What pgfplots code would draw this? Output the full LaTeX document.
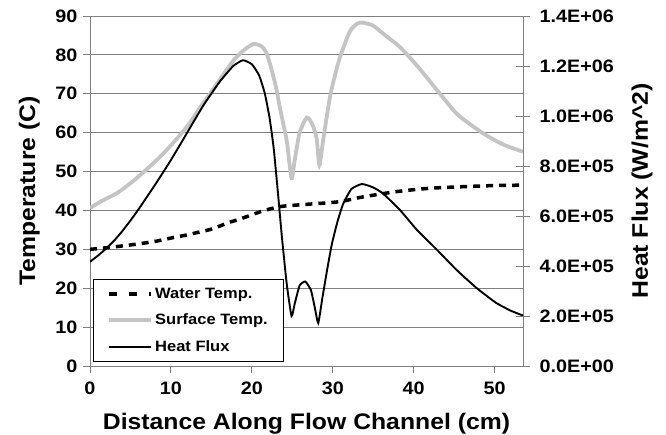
\documentclass[border=0pt]{standalone}
\usepackage{pgfplots}
\pgfplotsset{compat=1.18}
\usepackage{fontspec}
\setmainfont{Liberation Sans}[FakeStretch=1.1]
\definecolor{gridgray}{HTML}{808080}
\definecolor{surfgray}{HTML}{C4C4C4}
\begin{document}
\begin{tikzpicture}
\pgfplotsset{
  common/.style={
    scale only axis, width=433pt, height=350pt,
    at={(0pt,0pt)}, anchor=south west,
    xmin=0, xmax=53.5,
    /pgf/number format/assume math mode=true,
    ticklabel style={font=\fontsize{18}{20}\selectfont\bfseries},
    label style={font=\fontsize{22.5}{26}\selectfont\bfseries},
    axis line style={draw=gridgray, line width=0.9pt, -},
    tick style={draw=gridgray, line width=0.9pt},
  },
  waterstyle/.style={black, line width=3.5pt, dash pattern=on 7pt off 6pt},
  surfstyle/.style={surfgray, line width=3.8pt},
  fluxstyle/.style={black, line width=1.9pt},
}
\begin{axis}[common,
  ymin=0, ymax=90,
  axis x line*=bottom, axis y line*=left,
  xtick={0,10,20,30,40,50},
  ytick={0,10,20,30,40,50,60,70,80,90},
  ymajorgrids, grid style={draw=gridgray, line width=0.9pt},
  tick align=outside, major tick length=7pt,
  xticklabel style={yshift=-5pt},
  yticklabel style={xshift=-2pt},
  xlabel={Distance Along Flow Channel (cm)},
  ylabel={Temperature (C)},
  xlabel style={at={(axis description cs:0.5,-0.165)}, anchor=center},
  ylabel style={at={(axis description cs:-0.14,0.5)}, anchor=center},
]
\addplot[waterstyle, smooth, tension=0.5] coordinates {
(0,30) (2,30.4) (4.1,30.9) (6,31.4) (8.2,32.1) (10,32.9) (12,33.7) (13.2,34.3)
(15,35.2) (17.3,37) (18.1,37.5) (19.5,38.5) (21.4,39.9) (23.5,41) (25,41.3)
(27.6,41.7) (29.65,42) (31.3,42.4) (33,43.2) (35.8,44.2) (38.5,45) (42,45.7)
(46,46.1) (50,46.4) (53.5,46.5)
};
\addplot[surfstyle, smooth, tension=0.4] coordinates {
(0,40.6) (1.5,42.5) (3.3,44.4) (5,47) (6.7,50) (9,54.5) (11.3,59.8) (12.5,63)
(13.6,66.5) (15,70.5) (16.5,75) (17.7,78.5) (19,81.2) (20.2,82.8) (21.2,82.2)
(21.8,80.5) (22.4,76.5) (23,71.5) (23.5,66) (24.3,58) (24.9,48.3) (25.3,53)
(25.9,60) (26.8,63.9) (27.5,62) (28,58.5) (28.35,51.7) (28.8,58) (29.65,69.2)
(30.3,75) (30.9,79.5) (32.1,86) (33,88) (33.7,88.3) (35,87.5) (36.5,85)
(38.3,82) (40.5,77) (43.2,70.1) (45.5,64.5) (48.6,59.8) (51,57) (53.5,55.1)
};
\end{axis}
\begin{axis}[common,
  ymin=0, ymax=1400000,
  axis x line=none, axis y line*=right,
  scaled y ticks=false,
  ytick={0,200000,400000,600000,800000,1000000,1200000,1400000},
  yticklabels={0.0E+00,2.0E+05,4.0E+05,6.0E+05,8.0E+05,1.0E+06,1.2E+06,1.4E+06},
  tick align=center, major tick length=14pt,
  yticklabel style={xshift=6pt},
  ylabel={Heat Flux (W/m\textasciicircum 2)},
  ylabel style={at={(axis description cs:1.275,0.5)}, anchor=center, rotate=0},
  legend style={at={(axis description cs:0.007,0.011)}, anchor=south west,
    draw=black, line width=0.8pt, fill=white,
    font=\fontsize{15}{17}\selectfont\bfseries,
    inner xsep=14pt, inner ysep=7pt, row sep=10pt},
  legend cell align=left,
  legend image code/.code={\draw[#1] (0pt,0pt) -- (42pt,0pt);},
]
\addlegendimage{black, line width=3.5pt, dash pattern=on 8pt off 12pt}
\addlegendentry{Water Temp.}
\addlegendimage{surfstyle}
\addlegendentry{Surface Temp.}
\addplot[fluxstyle, smooth, tension=0.3] coordinates {
(0,417000) (1,442000) (2,470000) (3,502000) (4,540000) (5,582000) (6,627000)
(8,723000) (10,824000) (12,933000) (14,1042000) (16,1136000) (17.7,1200000)
(18.9,1223000) (20.0,1207000) (20.9,1162000) (21.6,1090000) (22.2,990000)
(22.7,870000) (23.2,700000) (23.7,520000) (24.3,330000) (24.9,200000)
(25.3,250000) (25.9,322000) (26.6,338000) (27.3,303000) (27.8,230000)
(28.2,172000) (28.7,270000) (29.3,385000) (29.9,490000) (30.6,580000)
(31.3,650000) (32.3,708000) (33.6,728000) (35,714000) (36.2,690000)
(38.3,624000) (40.4,544000) (42.8,467000) (45.3,384000) (47.8,311000)
(50.2,252000) (52,221000) (53.5,202000)
};
\addlegendentry{Heat Flux}
\end{axis}
\pgfresetboundingbox
\path[use as bounding box] (-90pt,-68pt) rectangle (576pt,366pt);
\end{tikzpicture}
\end{document}
